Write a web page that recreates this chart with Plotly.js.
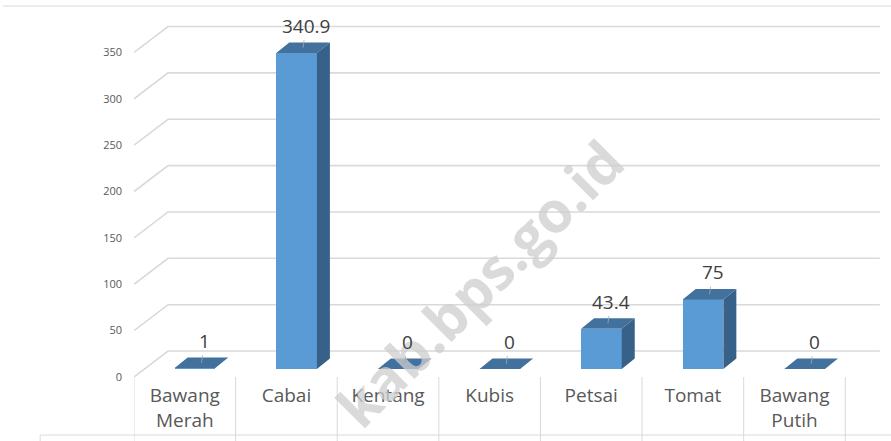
<!DOCTYPE html>
<html>
<head>
<meta charset="utf-8">
<script src="https://cdn.plot.ly/plotly-3.0.1.min.js"></script>
<style>
  html, body { margin: 0; padding: 0; background: #fff; }
  #chart { width: 891px; height: 441px; }
</style>
</head>
<body>
<div id="chart"></div>
<script>
// data
var categories = ["Bawang<br>Merah", "Cabai", "Kentang", "Kubis", "Petsai", "Tomat", "Bawang<br>Putih"];
var values = [1, 340.9, 0, 0, 43.4, 75, 0];
var valueLabels = ["1", "340.9", "0", "0", "43.4", "75", "0"];
var yTicks = [0, 50, 100, 150, 200, 250, 300, 350];

// fake 3D geometry, in axis units
var barWidth = 0.40;
var barShift = 0.10;       // bars sit a bit right of the category centre
var depthX = 0.128;        // side / top face depth
var depthY = 11.3;
var floorOff = -8.6;       // front edge of the floor
var wallOff = 19.4;        // back wall
var wallX0 = -0.165;
var wallX1 = 6.84;

var idx = categories.map(function (c, i) { return i; });

var frontFace = {
    x: idx,
    y: values,
    type: "bar",
    width: barWidth,
    offset: -barWidth / 2 + barShift,
    marker: {color: "#5b9bd5", line: {width: 0}},
    hoverinfo: "skip"
};

// side faces
var sx = [], sy = [];
// top faces
var tx = [], ty = [];
values.forEach(function (v, i) {
    var xl = i + barShift - barWidth / 2;
    var xr = i + barShift + barWidth / 2;
    if (v > 0) {
        sx.push(xr, xr + depthX, xr + depthX, xr, xr, null);
        sy.push(0, depthY, v + depthY, v, 0, null);
    }
    tx.push(xl, xr, xr + depthX, xl + depthX, xl, null);
    ty.push(v, v, v + depthY, v + depthY, v, null);
});

var sideFace = {
    x: sx, y: sy, type: "scatter", mode: "lines", fill: "toself",
    fillcolor: "#386189", line: {width: 0, color: "#386189"}, hoverinfo: "skip"
};
var topFace = {
    x: tx, y: ty, type: "scatter", mode: "lines", fill: "toself",
    fillcolor: "#41719c", line: {width: 0, color: "#41719c"}, hoverinfo: "skip"
};

// wall gridlines with the diagonal floor bit
var shapes = yTicks.map(function (v) {
    return {
        type: "path", xref: "x", yref: "y", layer: "below",
        path: "M -0.5," + (v + floorOff) + " L " + wallX0 + "," + (v + wallOff) + " L " + wallX1 + "," + (v + wallOff),
        line: {color: "#d9d9d9", width: 1.6}
    };
});

// category table below the floor
var gridCol = "#d9d9d9";
for (var k = 0; k <= categories.length; k++) {
    shapes.push({type: "line", xref: "x", yref: "paper", x0: k - 0.5, x1: k - 0.5,
        y0: 0, y1: -0.17, line: {color: gridCol, width: 1}});
}
shapes.push({type: "line", xref: "paper", yref: "paper", x0: -0.124, x1: 1,
    y0: -0.154, y1: -0.154, line: {color: gridCol, width: 1}});
shapes.push({type: "line", xref: "paper", yref: "paper", x0: -0.124, x1: -0.124,
    y0: -0.154, y1: -0.17, line: {color: gridCol, width: 1}});
// chart border on top
shapes.push({type: "line", xref: "paper", yref: "paper", x0: -0.173, x1: 1,
    y0: 0.984, y1: 0.984, line: {color: gridCol, width: 1}});

var annotations = [{
    text: "kab.bps.go.id", xref: "paper", yref: "paper", x: 0.456, y: 0.25,
    xanchor: "center", yanchor: "middle",
    showarrow: false, textangle: -45,
    font: {family: "Open Sans", size: 57, color: "rgba(205,205,205,0.75)", weight: 700}
}];
values.forEach(function (v, i) {
    annotations.push({
        x: i + barShift + depthX / 2, y: v + depthY / 2,
        xref: "x", yref: "y",
        text: valueLabels[i],
        showarrow: true, arrowhead: 0, arrowwidth: 0.8, arrowcolor: "#a6a6a6",
        ax: 3, ay: -22, standoff: 0,
        font: {family: "Open Sans", size: 19, color: "#404040"}
    });
});

var layout = {
    width: 891,
    height: 441,
    margin: {l: 134, r: 0, t: 0, b: 64},
    paper_bgcolor: "#ffffff",
    plot_bgcolor: "rgba(0,0,0,0)",
    showlegend: false,
    bargap: 0,
    xaxis: {
        range: [-0.5, 6.95],
        tickvals: idx,
        ticktext: categories,
        ticks: "",
        showgrid: false,
        zeroline: false,
        showline: false,
        ticklabelstandoff: 5,
        tickfont: {family: "Open Sans", size: 19, color: "#595959"},
        fixedrange: true
    },
    yaxis: {
        range: [-8.6, 398],
        tickvals: yTicks.map(function (v) { return v + floorOff; }),
        ticktext: yTicks.map(String),
        ticks: "",
        showgrid: false,
        zeroline: false,
        showline: false,
        ticklabelstandoff: 11,
        tickfont: {family: "Open Sans", size: 11, color: "#595959"},
        fixedrange: true
    },
    shapes: shapes,
    annotations: annotations
};

Plotly.newPlot("chart", [frontFace, sideFace, topFace], layout, {displayModeBar: false, staticPlot: true});
</script>
</body>
</html>
